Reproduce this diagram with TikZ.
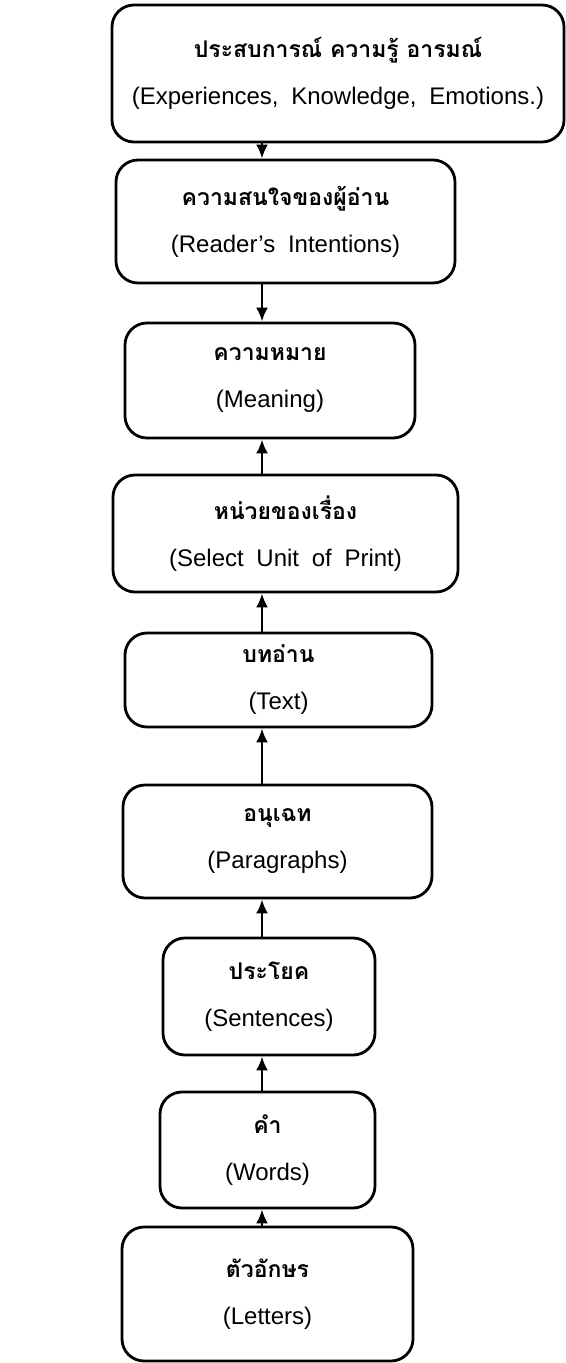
\documentclass[tikz,border=0pt]{standalone}
\usepackage{fontspec}
\setmainfont[WordSpace=1.9]{Liberation Sans}
\newfontfamily\thaifont[Script=Thai]{Loma}
\usetikzlibrary{arrows.meta}
\tikzset{
  stage/.style={draw, line width=1.4pt, rounded corners=11pt, align=center,
    inner sep=0pt, font=\fontsize{12}{23.5}\selectfont},
  boxdim/.style 2 args={minimum width=#1*0.5pt, minimum height=#2*0.5pt},
  link/.style={line width=1.3pt, -{Latex[length=7pt,width=6pt]}}
}
\newcommand{\thline}[1]{{\thaifont\bfseries\fontsize{11.5}{23.5}\selectfont #1}}
\begin{document}
\begin{tikzpicture}[x=0.5pt,y=-0.5pt]
  \useasboundingbox (0,0) rectangle (566,1363);
  \coordinate (axis) at (262,0);
  \node[stage,boxdim={452}{137}] (exp) at (338,73.5)
    {\thline{ประสบการณ์ ความรู้ อารมณ์}\\(Experiences, Knowledge, Emotions.)};
  \node[stage,boxdim={339}{123}] (intent) at (285.5,221.5)
    {\thline{ความสนใจของผู้อ่าน}\\(Reader's Intentions)};
  \node[stage,boxdim={290}{115}] (meaning) at (270,380.5)
    {\thline{ความหมาย}\\(Meaning)};
  \node[stage,boxdim={345}{117}] (unit) at (285.5,533.5)
    {\thline{หน่วยของเรื่อง}\\(Select Unit of Print)};
  \node[stage,boxdim={307}{94}] (text) at (278.5,680)
    {\thline{บทอ่าน}\\(Text)};
  \node[stage,boxdim={309}{113}] (para) at (277.5,841.5)
    {\thline{อนุเฉท}\\(Paragraphs)};
  \node[stage,boxdim={212}{117}] (sent) at (269,996.5)
    {\thline{ประโยค}\\(Sentences)};
  \node[stage,boxdim={215}{116}] (word) at (267.5,1150)
    {\thline{คำ}\\(Words)};
  \node[stage,boxdim={291}{134}] (letter) at (267.5,1294)
    {\thline{ตัวอักษร}\\(Letters)};
  % downward links
  \draw[link] (axis |- exp.south) -- (axis |- intent.north);
  \draw[link] (axis |- intent.south) -- (axis |- meaning.north);
  % upward links
  \foreach \a/\b in {unit/meaning,text/unit,para/text,sent/para,word/sent,letter/word}
    \draw[link] (axis |- \a.north) -- (axis |- \b.south);
\end{tikzpicture}
\end{document}
